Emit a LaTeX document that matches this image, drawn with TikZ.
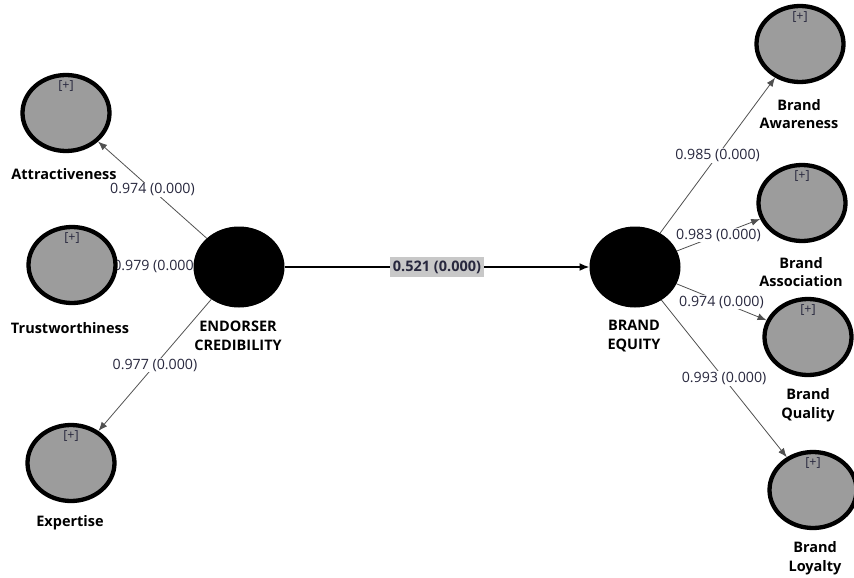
\documentclass[tikz,border=0pt]{standalone}
\usepackage{fontspec}
\setmainfont{Open Sans}
\usetikzlibrary{shapes.geometric,arrows.meta,backgrounds}
\definecolor{ind}{RGB}{156,156,156}
\definecolor{ink}{RGB}{40,40,62}
\definecolor{edgegray}{RGB}{80,80,80}
\definecolor{pathbg}{RGB}{200,200,200}

\begin{document}
\begin{tikzpicture}[x=1pt,y=-1pt,
  indicator/.style={ellipse, fill=ind, draw=black, line width=4.3pt,
    minimum width=87pt, minimum height=76pt, inner sep=0pt},
  construct/.style={ellipse, fill=black, draw=black, line width=1pt,
    minimum width=90pt, minimum height=80pt, inner sep=0pt},
  vname/.style={font=\fontsize{14.5}{18.5}\selectfont\bfseries, text=black,
    align=center, inner sep=0pt},
  plusmark/.style={font=\fontsize{12.5}{13}\selectfont, text=ink, inner sep=0pt},
  load/.style={-{Latex[length=9pt,width=7pt]}, draw=edgegray, line width=0.8pt},
  loadlbl/.style={fill=white, text=ink, font=\fontsize{14.2}{16}\selectfont,
    inner sep=1pt},
  pathlbl/.style={fill=pathbg, text=ink, font=\fontsize{14.5}{16}\selectfont\bfseries,
    inner xsep=3pt, inner ysep=3.5pt},
]
\useasboundingbox (0,0) rectangle (854,578);

% latent constructs
\node[construct] (ec) at (239,267) {};
\node[construct] (be) at (635,267) {};

% dimensions of endorser credibility
\node[indicator] (att) at (66,113) {};
\node[indicator] (tru) at (72,265) {};
\node[indicator] (exp) at (71,463) {};

% dimensions of brand equity
\node[indicator] (baw) at (800,44) {};
\node[indicator] (bas) at (802,203) {};
\node[indicator] (bqu) at (808,337) {};
\node[indicator] (blo) at (813,490) {};

% expand markers
\foreach \n in {att,tru,exp,baw,bas,bqu,blo}
  \node[plusmark] (\n-plus) at ([yshift=-13pt]\n.north) {[+]};

% variable names
\node[vname] (att-name) at (64,174) {Attractiveness};
\node[vname] (tru-name) at (70,328) {Trustworthiness};
\node[vname] (exp-name) at (70,523) {Expertise};
\node[vname] (ec-name) at (238,336) {ENDORSER\\CREDIBILITY};
\node[vname] (be-name) at (634,336) {BRAND\\EQUITY};
\node[vname] (baw-name) at (799,114) {Brand\\Awareness};
\node[vname] (bas-name) at (801,272) {Brand\\Association};
\node[vname] (bqu-name) at (808,405) {Brand\\Quality};
\node[vname] (blo-name) at (815,558) {Brand\\Loyalty};

% paths and outer loadings behind the circles
\begin{pgfonlayer}{background}
  \draw[load] (ec) -- node[loadlbl] (l-att) {0.974 (0.000)} (att);
  \draw[load] (ec) -- node[loadlbl] (l-tru) {0.979 (0.000)} (tru);
  \draw[load] (ec) -- node[loadlbl] (l-exp) {0.977 (0.000)} (exp);
  \draw[load] (be) -- node[loadlbl] (l-baw) {0.985 (0.000)} (baw);
  \draw[load] (be) -- node[loadlbl] (l-bas) {0.983 (0.000)} (bas);
  \draw[load] (be) -- node[loadlbl] (l-bqu) {0.974 (0.000)} (bqu);
  \draw[load] (be) -- node[loadlbl] (l-blo) {0.993 (0.000)} (blo);
  \draw[-{Latex[length=10pt,width=8pt]}, line width=1.8pt]
    (ec) -- node[pathlbl] (l-path) {0.521 (0.000)} (be);
\end{pgfonlayer}
\end{tikzpicture}
\end{document}
